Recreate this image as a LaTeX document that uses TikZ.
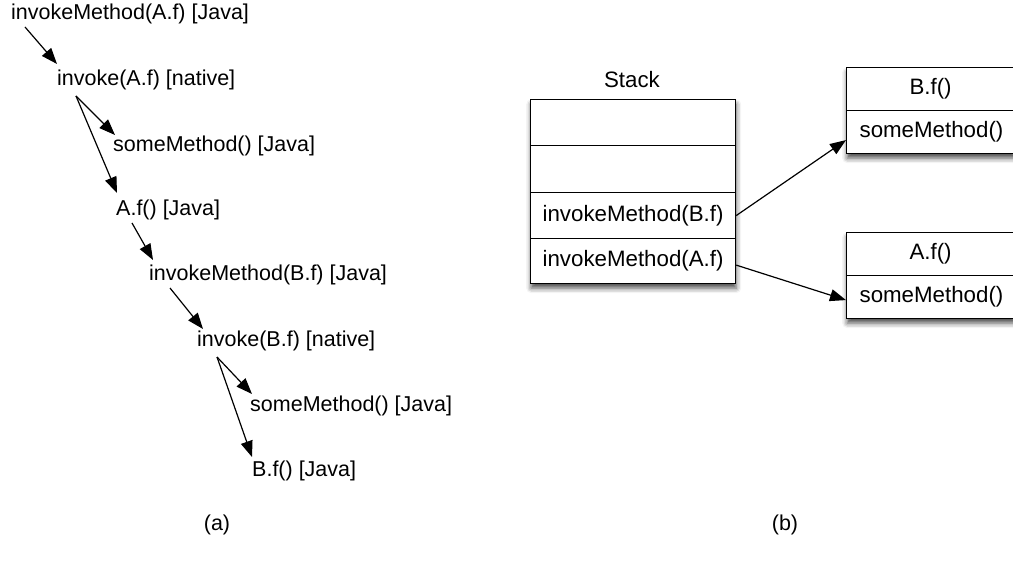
\documentclass[tikz,border=0pt]{standalone}
\usepackage{fontspec}
\setmainfont{Liberation Sans}
\usetikzlibrary{arrows.meta,shadows.blur}

\tikzset{
  lbl/.style={inner sep=0pt, anchor=west, font=\fontsize{21.5}{24}\selectfont},
  call/.style={-{Triangle[length=16pt,width=12pt]}, line width=1.2pt},
  cell/.style={draw, line width=1.2pt, fill=white, inner sep=0pt, anchor=north west,
    minimum width=205pt, font=\fontsize{22.3}{25}\selectfont},
  shade/.style={fill=white, inner sep=0pt, anchor=north west,
    blur shadow={shadow xshift=1pt, shadow yshift=-5pt, shadow blur radius=5pt, shadow opacity=70}},
}

\begin{document}
\begin{tikzpicture}[x=1pt, y=-1pt]
\useasboundingbox (0,0) rectangle (1013,564);

% (a) call chain
\node[lbl] (n1) at (11,14)  {invokeMethod(A.f) [Java]};
\node[lbl] (n2) at (57,80)  {invoke(A.f) [native]};
\node[lbl] (n3) at (113,146) {someMethod() [Java]};
\node[lbl] (n4) at (116,210) {A.f() [Java]};
\node[lbl] (n5) at (149,275) {invokeMethod(B.f) [Java]};
\node[lbl] (n6) at (197,341) {invoke(B.f) [native]};
\node[lbl] (n7) at (250,406) {someMethod() [Java]};
\node[lbl] (n8) at (252,471) {B.f() [Java]};

\draw[call] ([xshift=14pt,yshift=-13pt]n1.west) -- ([yshift=16pt]n2.west);
\draw[call] ([xshift=19pt,yshift=-16pt]n2.west) -- ([xshift=2pt,yshift=11pt]n3.west);
\draw[call] ([xshift=19pt,yshift=-16pt]n2.west) -- ([xshift=1pt,yshift=17pt]n4.west);
\draw[call] ([xshift=16pt,yshift=-13pt]n4.west) -- ([xshift=4pt,yshift=15pt]n5.west);
\draw[call] ([xshift=21pt,yshift=-13pt]n5.west) -- ([xshift=6pt,yshift=12pt]n6.west);
\draw[call] ([xshift=20pt,yshift=-16pt]n6.west) -- ([xshift=2pt,yshift=12pt]n7.west);
\draw[call] ([xshift=20pt,yshift=-16pt]n6.west) -- ([yshift=14pt]n8.west);

\node[font=\fontsize{21.5}{24}\selectfont] (capa) at (217,525) {(a)};
\node[font=\fontsize{21.5}{24}\selectfont] (capb) at (785,525) {(b)};

% (b) stack frames
\node[font=\fontsize{22.3}{25}\selectfont] (stk) at (632,80) {Stack};
\node[shade, minimum width=205pt, minimum height=184pt] (stackbg) at (530,99) {};
\node[cell, minimum height=46pt] (c1) at (530,99)  {};
\node[cell, minimum height=47pt] (c2) at (530,145) {};
\node[cell, minimum height=46pt, text width=181pt, align=left] (c3) at (530,192) {invokeMethod(B.f)};
\node[cell, minimum height=45pt, text width=181pt, align=left] (c4) at (530,238) {invokeMethod(A.f)};

% (b) method boxes
\node[shade, minimum width=168pt, minimum height=86pt] (bbg) at (846,67) {};
\node[cell, minimum width=168pt, minimum height=43pt] (bh) at (846,67) {B.f()};
\node[cell, minimum width=168pt, minimum height=43pt, text width=142pt, align=left] (bb) at (846,110) {someMethod()};

\node[shade, minimum width=168pt, minimum height=86pt] (abg) at (846,232) {};
\node[cell, minimum width=168pt, minimum height=43pt] (ah) at (846,232) {A.f()};
\node[cell, minimum width=168pt, minimum height=43pt, text width=142pt, align=left] (ab) at (846,275) {someMethod()};

\draw[call] (c3.east) -- ([yshift=-8pt]bb.west);
\draw[call] ([yshift=-4pt]c4.east) -- ([yshift=-3pt]ab.west);
\end{tikzpicture}
\end{document}
